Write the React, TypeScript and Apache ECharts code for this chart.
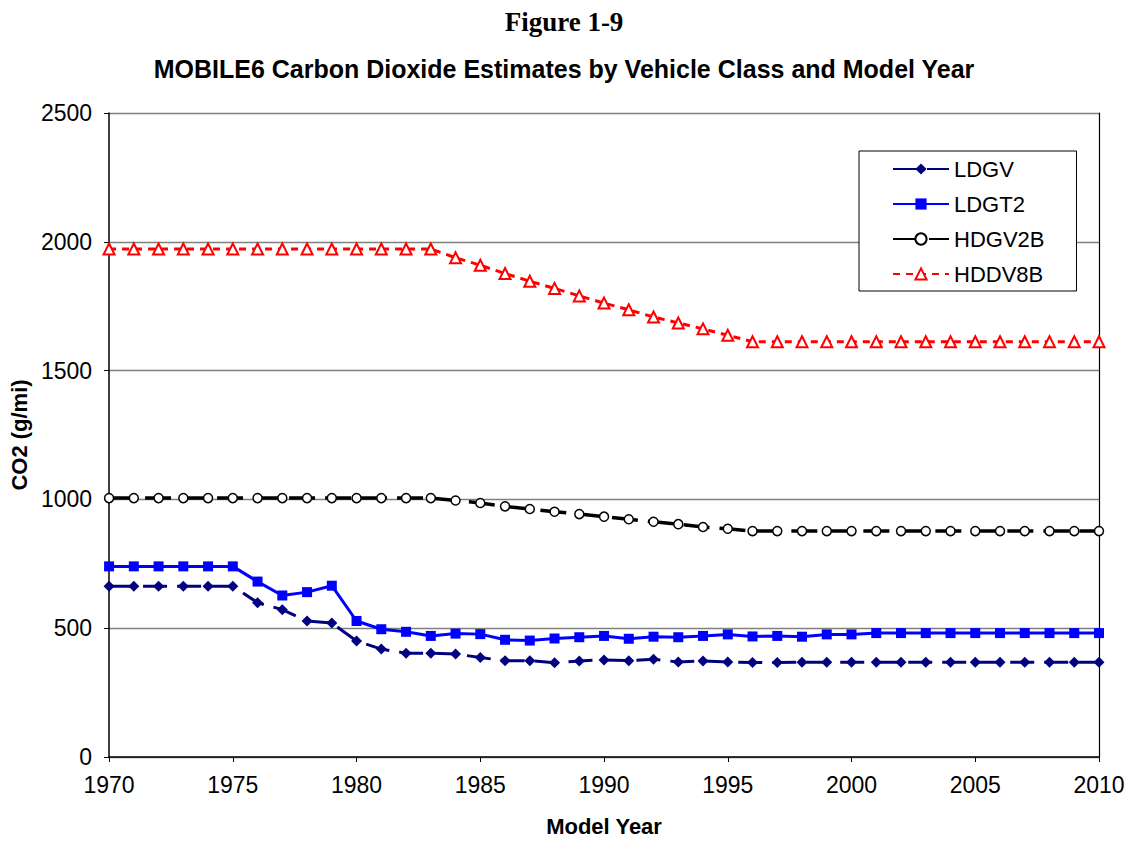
import React, { useEffect, useRef } from "react";
import * as echarts from "echarts";

const years = Array.from({ length: 41 }, (_, i) => 1970 + i);

const ldgv = [
  663, 663, 663, 663, 663, 663, 599, 572, 528, 520,
  450, 419, 403, 403, 400, 386, 374, 374, 366, 373,
  377, 374, 379, 369, 373, 369, 367, 367, 368, 368,
  368, 368, 368, 368, 368, 368, 368, 368, 368, 368, 368,
];
const ldgt2 = [
  740, 740, 740, 740, 740, 740, 681, 627, 640, 665,
  528, 496, 486, 470, 479, 477, 455, 452, 460, 465,
  470, 459, 467, 465, 470, 476, 468, 470, 467, 476,
  476, 481, 481, 481, 481, 481, 481, 481, 481, 481, 481,
];
const hdgv2b = [
  1005, 1005, 1005, 1005, 1005, 1005, 1005, 1005, 1005, 1005,
  1005, 1005, 1005, 1005, 996, 986, 973, 963, 952, 943,
  933, 923, 913, 904, 893, 886, 877, 877, 877, 877,
  877, 877, 877, 877, 877, 877, 877, 877, 877, 877, 877,
];
const hddv8b = [
  1972, 1972, 1972, 1972, 1972, 1972, 1972, 1972, 1972, 1972,
  1972, 1972, 1972, 1972, 1938, 1909, 1877, 1847, 1819, 1790,
  1762, 1736, 1708, 1685, 1662, 1637, 1612, 1612, 1612, 1612,
  1612, 1612, 1612, 1612, 1612, 1612, 1612, 1612, 1612, 1612, 1612,
];

const pairs = (vals: number[]) => years.map((y, i) => [y, vals[i]]);

export default function App() {
  const ref = useRef<HTMLDivElement>(null);
  useEffect(() => {
    if (!ref.current) return;
    const chart = echarts.init(ref.current, undefined, { renderer: "svg" });
    const font = "'Liberation Sans', Arial, sans-serif";
    chart.setOption({
      animation: false,
      backgroundColor: "#ffffff",
      title: [
        {
          text: "Figure 1-9",
          left: "center",
          top: 3,
          textStyle: { fontFamily: "'Liberation Serif', 'Times New Roman', serif", fontWeight: "bold", fontSize: 27, color: "#000" },
        },
        {
          text: "MOBILE6 Carbon Dioxide Estimates by Vehicle Class and Model Year",
          left: "center",
          top: 51,
          textStyle: { fontFamily: font, fontWeight: "bold", fontSize: 25, color: "#000" },
        },
      ],
      grid: { left: 109, top: 113, width: 990, height: 650, containLabel: false },
      legend: {
        orient: "vertical",
        left: 859,
        top: 151,
        padding: [7, 32, 6, 33],
        itemGap: 13,
        itemWidth: 56,
        itemHeight: 14,
        backgroundColor: "#fff",
        borderColor: "#000",
        borderWidth: 1,
        borderRadius: 0,
        textStyle: { fontFamily: font, fontSize: 22, lineHeight: 22, color: "#000" },
        data: ["LDGV", "LDGT2", "HDGV2B", "HDDV8B"],
      },
      xAxis: {
        type: "value",
        min: 1970,
        max: 2010,
        interval: 5,
        name: "Model Year",
        nameLocation: "middle",
        nameGap: 58,
        nameTextStyle: { fontFamily: font, fontWeight: "bold", fontSize: 22, color: "#000" },
        axisLine: { lineStyle: { color: "#000", width: 1.5 } },
        axisTick: { show: true, length: 5, lineStyle: { color: "#000" } },
        axisLabel: { fontFamily: font, fontSize: 23, color: "#000", margin: 16, formatter: (v: number) => String(v) },
        splitLine: { show: false },
      },
      yAxis: [
        {
          type: "value",
          min: 0,
          max: 2500,
          interval: 500,
          name: "CO2 (g/mi)",
          nameLocation: "middle",
          nameGap: 76,
          nameTextStyle: { fontFamily: font, fontWeight: "bold", fontSize: 22, color: "#000" },
          axisLine: { show: true, lineStyle: { color: "#000", width: 1.5 } },
          axisTick: { show: true, length: 5, lineStyle: { color: "#000" } },
          axisLabel: { fontFamily: font, fontSize: 23, color: "#000", margin: 17, formatter: (v: number) => String(v) },
          splitLine: { show: true, lineStyle: { color: "#808080", width: 1.3 } },
        },
        {
          type: "value",
          min: 0,
          max: 2500,
          interval: 500,
          position: "right",
          axisLine: { show: true, lineStyle: { color: "#000", width: 1.2 } },
          axisTick: { show: false },
          axisLabel: { show: false },
          splitLine: { show: false },
        },
      ],
      series: [
        {
          name: "LDGV",
          type: "line",
          data: pairs(ldgv),
          symbol: "diamond",
          symbolSize: 11,
          color: "#000080",
          itemStyle: { color: "#000080" },
          lineStyle: { color: "#000080", width: 3, type: [24, 10] },
          z: 5,
        },
        {
          name: "LDGT2",
          type: "line",
          data: pairs(ldgt2),
          symbol: "rect",
          symbolSize: 10,
          color: "#0000ff",
          itemStyle: { color: "#0000ff" },
          lineStyle: { color: "#0000ff", width: 3 },
          z: 4,
        },
        {
          name: "HDGV2B",
          type: "line",
          data: pairs(hdgv2b),
          symbol: "circle",
          symbolSize: 9,
          color: "#000",
          itemStyle: { color: "#fff", borderColor: "#000", borderWidth: 1.5 },
          lineStyle: { color: "#000", width: 3.5, type: [26, 10] },
          z: 3,
        },
        {
          name: "HDDV8B",
          type: "line",
          data: pairs(hddv8b),
          symbol: "triangle",
          symbolSize: 11,
          color: "#ff0000",
          itemStyle: { color: "#fff", borderColor: "#ff0000", borderWidth: 2 },
          lineStyle: { color: "#ff0000", width: 3, type: [7, 6] },
          z: 2,
        },
      ],
    });
    return () => chart.dispose();
  }, []);
  return (
    <div
      ref={ref}
      style={{ position: "absolute", left: 0, top: 0, width: 1128, height: 842, overflow: "hidden" }}
    />
  );
}
